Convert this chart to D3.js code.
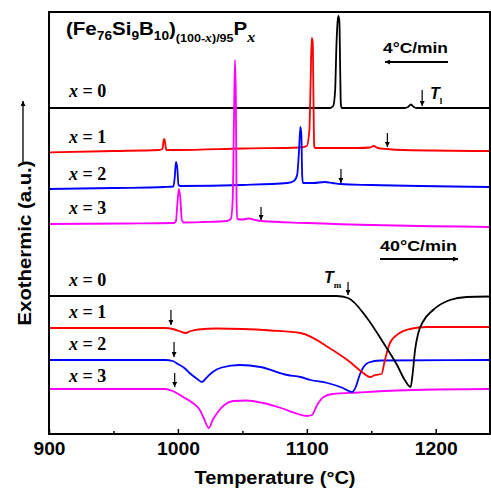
<!DOCTYPE html>
<meta charset="utf-8">
<head>
<script src="https://d3js.org/d3.v7.min.js"></script>
<style>
  body { margin: 0; background: #fff; }
  text { font-family: "Liberation Sans", Arial, sans-serif; font-weight: bold; }
  .lbl { font-family: "Liberation Serif", "Times New Roman", serif; font-size: 18px; }
</style>
</head>
<body>
<svg id="chart" width="491" height="489"></svg>
<script>
// DSC traces, [temperature (°C), signal (a.u.)]
// 4 °C/min cooling, exothermic peaks up
var slow_x0 = [[900,326],[1000,326],[1100,326],[1118,326],[1120.5,328],[1122,344],[1123,389],[1124,414],[1124.6,418],[1125.3,412],[1125.9,364],[1126.4,330],[1127,326],[1176,326],[1178.5,327],[1180.8,329.5],[1183,327],[1185,326],[1242,326]];
var slow_x1 = [[900,281.7],[950,283],[985,284],[988,285],[989,294],[989.5,295],[990,292],[991,284],[1000,284],[1050,285.5],[1095,286.5],[1100,288],[1102,304],[1103,354],[1103.8,396],[1104.6,392],[1105.2,334],[1105.7,289],[1106.2,286],[1140,286],[1149,286.5],[1152,288],[1155,286],[1162,285],[1175,284],[1242,283]];
var slow_x2 = [[900,245],[950,246],[990,247],[996.5,247.5],[997.5,256],[998.5,272],[999.5,266],[1000.5,249],[1002,248],[1050,249],[1085,251],[1090,253],[1092.5,259],[1094,284],[1095,307],[1095.8,299],[1096.4,259],[1097,251],[1105,251],[1114,252],[1120,251],[1126,250],[1150,249],[1242,247]];
var slow_x3 = [[900,210],[960,210.5],[997,211],[998.5,213],[999.5,229],[1000.8,245],[1002,234],[1003,214],[1004.5,211.5],[1020,212],[1038,213],[1041,215],[1042.5,234],[1043.5,314],[1044.3,374],[1045,334],[1045.5,234],[1046,215],[1050,214.5],[1055,215.5],[1060,214],[1065,213],[1100,211],[1242,207]];
// 40 °C/min heating, endothermic dips down
var fast_x0 = [[900,138],[1000,138],[1100,138],[1123,138],[1132,136],[1146.7,116],[1159,92],[1170,69],[1176,54],[1180.5,47],[1182,59],[1184,84],[1186.5,101],[1190,112],[1198,124],[1211,134],[1224,137],[1242,137.5]];
var fast_x1 = [[900,106],[990,106],[996,105],[1001,103],[1006,101],[1010,103],[1016,104.5],[1030,105.5],[1050,105],[1072,103.5],[1095,101],[1120,84],[1133.5,72],[1142.8,62],[1149,57],[1153,59],[1158,60],[1160.6,74],[1164.5,91],[1172,101],[1180,105],[1193,107],[1242,107]];
var fast_x2 = [[900,74],[990,74],[996,73],[1000,70],[1005,66],[1010,60],[1015,55],[1018.7,52],[1022,56],[1027,62],[1034,66.5],[1048,69],[1064,67],[1085,59],[1095,57],[1103,54],[1116,51],[1128,46],[1135,42],[1138,47],[1141,59],[1144,67],[1148,71.5],[1157,73.5],[1242,74]];
var fast_x3 = [[900,45],[990,45],[996,43],[1004,37],[1011.5,31],[1017,24],[1020,16],[1024,6],[1027,14],[1031,22],[1036,29],[1043,33],[1053,33.5],[1066,31],[1080,26],[1093,20],[1100,18],[1104,19],[1108,29],[1113,37],[1120,40],[1140,41.5],[1170,43.5],[1200,44.5],[1242,45]];

var colors = ["#000000", "#ff0000", "#0000ff", "#ff00ff"];
var xLabels = ["x = 0", "x = 1", "x = 2", "x = 3"];

// marker arrows: [temperature, from, to]
var slowArrows = [[1189.5,344,328],[1162.5,301,287],[1126.5,265,251],[1064.5,227,214]];
var fastArrows = [[1132,152,139],[994.6,124,109],[997,92,77],[997.5,61,47]];

var majorTicks = [900, 1000, 1100, 1200];
var minorTicks = [950, 1050, 1150];

var svg = d3.select("#chart");
var mLeft = 49, mRight = 490, mTop = 12, mBottom = 434;

var x = d3.scaleLinear().domain([900, 1200]).range([mLeft, 435.7]);
var y = d3.scaleLinear().domain([0, 422]).range([mBottom, mTop]);

var line = d3.line()
  .x(function(d) { return x(d[0]); })
  .y(function(d) { return y(d[1]); })
  .curve(d3.curveMonotoneX);

svg.append("defs").append("marker")
  .attr("id", "head")
  .attr("viewBox", "0 0 10 10")
  .attr("refX", 10).attr("refY", 5)
  .attr("markerWidth", 6).attr("markerHeight", 5)
  .attr("markerUnits", "userSpaceOnUse")
  .attr("orient", "auto")
  .append("path").attr("d", "M0,0L10,5L0,10z").attr("fill", "#000");

var plot = svg.append("g");
plot.append("clipPath").attr("id", "clip")
  .append("rect").attr("x", mLeft).attr("y", mTop).attr("width", mRight - mLeft).attr("height", mBottom - mTop);

var curves = plot.append("g").attr("clip-path", "url(#clip)");
[slow_x0, slow_x1, slow_x2, slow_x3].forEach(function(s, i) {
  curves.append("path").datum(s).attr("d", line)
    .attr("fill", "none").attr("stroke", colors[i]).attr("stroke-width", 1.8);
});
// draw x=0 heating last so overlaps look right
[fast_x3, fast_x2, fast_x1, fast_x0].forEach(function(s, i) {
  curves.append("path").datum(s).attr("d", line)
    .attr("fill", "none").attr("stroke", colors[3 - i]).attr("stroke-width", 1.8);
});

// small vertical arrows
slowArrows.concat(fastArrows).forEach(function(a) {
  plot.append("line")
    .attr("x1", x(a[0])).attr("x2", x(a[0]))
    .attr("y1", y(a[1])).attr("y2", y(a[2]))
    .attr("stroke", "#000").attr("stroke-width", 1.2)
    .attr("marker-end", "url(#head)");
});

// frame
plot.append("rect")
  .attr("x", mLeft).attr("y", mTop).attr("width", mRight - mLeft).attr("height", mBottom - mTop)
  .attr("fill", "none").attr("stroke", "#000").attr("stroke-width", 2);

// x axis
var xAxis = svg.append("g").attr("transform", "translate(0," + mBottom + ")")
  .call(d3.axisBottom(x).tickValues(majorTicks).tickSize(-5).tickPadding(8).tickFormat(d3.format("d")));
xAxis.select(".domain").remove();
xAxis.selectAll(".tick line").attr("stroke-width", 1.5);
xAxis.selectAll("text").style("font-size", "18px").style("font-weight", "bold")
  .style("font-family", "Liberation Sans, Arial, sans-serif").attr("fill", "#000")
  .attr("textLength", function(d) { return d < 1000 ? 32 : 43; })
  .attr("lengthAdjust", "spacingAndGlyphs");
svg.append("g").attr("transform", "translate(0," + mBottom + ")")
  .call(d3.axisBottom(x).tickValues(minorTicks).tickSize(-3).tickFormat(""))
  .call(function(g) { g.select(".domain").remove(); g.selectAll(".tick line").attr("stroke-width", 1.5); });

svg.append("text").attr("x", 275).attr("y", 484).attr("text-anchor", "middle")
  .style("font-size", "18px").attr("textLength", 161).attr("lengthAdjust", "spacingAndGlyphs")
  .text("Temperature (\u00B0C)");

// y label with arrow
svg.append("text")
  .attr("transform", "translate(31,243) rotate(-90)")
  .attr("text-anchor", "middle").style("font-size", "19px")
  .attr("textLength", 165).attr("lengthAdjust", "spacingAndGlyphs")
  .text("Exothermic (a.u.)");
svg.append("line").attr("x1", 23).attr("x2", 23).attr("y1", 162).attr("y2", 101)
  .attr("stroke", "#000").attr("stroke-width", 1.3).attr("marker-end", "url(#head)");

// title, stretched a bit wider like the original
var title = svg.append("g").attr("transform", "translate(66,35) scale(1.14,1)")
  .append("text").style("font-size", "18px");
title.append("tspan").text("(Fe");
title.append("tspan").attr("dy", 5).style("font-size", "12px").text("76");
title.append("tspan").attr("dy", -5).text("Si");
title.append("tspan").attr("dy", 5).style("font-size", "12px").text("9");
title.append("tspan").attr("dy", -5).text("B");
title.append("tspan").attr("dy", 5).style("font-size", "12px").text("10");
title.append("tspan").attr("dy", -5).text(")");
title.append("tspan").attr("dy", 7).style("font-size", "11px").text("(100-");
title.append("tspan").style("font-size", "12px").style("font-style", "italic")
  .style("font-family", "Liberation Serif, serif").text("x");
title.append("tspan").style("font-size", "11px").text(")/95");
title.append("tspan").attr("dy", -7).text("P");
title.append("tspan").attr("dy", 7).style("font-size", "14px").style("font-style", "italic")
  .style("font-family", "Liberation Serif, serif").text("x");

// sample labels
var slowLabelY = [97, 143, 180, 214];
var fastLabelY = [286, 318, 350, 382];
function sampleLabel(ypos, i) {
  var t = svg.append("text").attr("class", "lbl").attr("x", 69).attr("y", ypos);
  t.append("tspan").style("font-style", "italic").text("x");
  t.append("tspan").text(xLabels[i].slice(1).replace(/ /g, "\u00A0"));
}
slowLabelY.forEach(sampleLabel);
fastLabelY.forEach(sampleLabel);

// rate annotations
svg.append("text").attr("x", 383).attr("y", 53).style("font-size", "15px")
  .attr("textLength", 65).attr("lengthAdjust", "spacingAndGlyphs").text("4\u00B0C/min");
svg.append("line").attr("x1", 448).attr("x2", 385).attr("y1", 62).attr("y2", 62)
  .attr("stroke", "#000").attr("stroke-width", 1.8).attr("marker-end", "url(#head)");
svg.append("text").attr("x", 380).attr("y", 251).style("font-size", "15px")
  .attr("textLength", 77).attr("lengthAdjust", "spacingAndGlyphs").text("40\u00B0C/min");
svg.append("line").attr("x1", 380).attr("x2", 458).attr("y1", 259).attr("y2", 259)
  .attr("stroke", "#000").attr("stroke-width", 1.8).attr("marker-end", "url(#head)");

// T_l and T_m
var tl = svg.append("text").attr("x", 430).attr("y", 99).style("font-size", "16px");
tl.append("tspan").style("font-style", "italic").text("T");
tl.append("tspan").attr("dy", 5).style("font-size", "9px").style("font-family", "Liberation Serif, serif").text("l");
var tm = svg.append("text").attr("x", 324).attr("y", 283).style("font-size", "16px");
tm.append("tspan").style("font-style", "italic").text("T");
tm.append("tspan").attr("dy", 5).style("font-size", "9px").style("font-family", "Liberation Serif, serif").text("m");
</script>
</body>
